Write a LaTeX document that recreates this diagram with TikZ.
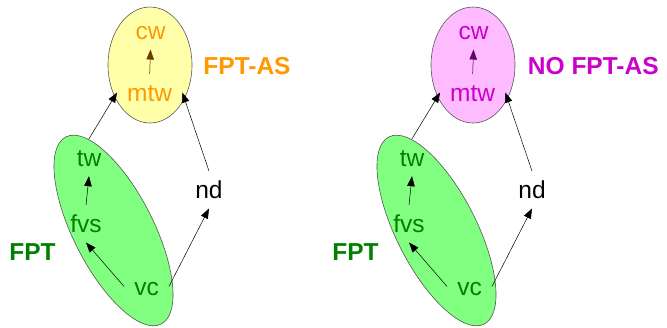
\documentclass[tikz,border=0pt]{standalone}
\usepackage{fontspec}
\setmainfont{Liberation Sans}
\usetikzlibrary{arrows.meta,shapes.geometric}
\definecolor{ylwfill}{HTML}{FFFFAA}
\definecolor{pinkfill}{HTML}{FFBBFF}
\definecolor{grnfill}{HTML}{80FF80}
\definecolor{orng}{HTML}{FF9900}
\definecolor{mgnt}{HTML}{CC00CC}
\definecolor{dgrn}{HTML}{007F00}
\definecolor{brwn}{HTML}{6B3A00}
\definecolor{prpl}{HTML}{660066}
\definecolor{edge}{HTML}{555555}
\begin{document}
\begin{tikzpicture}[x=1pt,y=-1pt,
  lbl/.style={anchor=base, inner sep=10pt, text height=17pt, text depth=0pt,
              font=\fontsize{24.5}{28}\selectfont},
  big/.style={anchor=base, inner sep=0pt, font=\fontsize{24.5}{28}\selectfont\bfseries},
  conn/.style={-{Triangle[length=10pt,width=7.5pt]}, line width=0.5pt},
  blob/.style={ellipse, draw=edge, line width=0.6pt, inner sep=0pt},
  topblob/.style={blob, minimum width=84pt, minimum height=116pt},
  lowblob/.style={blob, minimum width=210pt, minimum height=80pt, rotate=-63}]
\useasboundingbox (0,0) rectangle (667,327);

% ---------- left panel ----------
\node[topblob, fill=ylwfill] (yelL) at (150,65) {};
\node[lowblob, fill=grnfill] (grnL) at (113.5,230.5) {};

\node[lbl, text=orng] (cwL)  at (150.5,39.3) {cw};
\node[lbl, text=orng] (mtwL) at (149.7,101) {mtw};
\node[lbl, text=dgrn] (twL)  at (89,166) {tw};
\node[lbl, text=dgrn] (fvsL) at (86,232.3) {fvs};
\node[lbl, text=dgrn] (vcL)  at (146.5,295) {vc};
\node[lbl, text=black] (ndL) at (209,198.3) {nd};
\node[big, text=orng] (asL)  at (247,74.3) {FPT-AS};
\node[big, text=dgrn] (fptL) at (32.5,260.7) {FPT};

\draw[conn, draw=brwn, fill=brwn] (mtwL.north) -- (cwL.south);
\draw[conn] (twL.north) -- (mtwL.west);
\draw[conn] (ndL.north) -- (mtwL.east);
\draw[conn] (fvsL.north) -- (twL.south);
\draw[conn] (vcL.west) -- (fvsL.south);
\draw[conn] (vcL.east) -- (ndL.south);

% ---------- right panel ----------
\node[topblob, fill=pinkfill] (yelR) at (473,65) {};
\node[lowblob, fill=grnfill] (grnR) at (436.5,230.5) {};

\node[lbl, text=mgnt] (cwR)  at (473.5,39.3) {cw};
\node[lbl, text=mgnt] (mtwR) at (472.7,101) {mtw};
\node[lbl, text=dgrn] (twR)  at (412,166) {tw};
\node[lbl, text=dgrn] (fvsR) at (409,232.3) {fvs};
\node[lbl, text=dgrn] (vcR)  at (469.5,295) {vc};
\node[lbl, text=black] (ndR) at (532,198.3) {nd};
\node[big, text=mgnt] (asR)  at (593.3,74.3) {NO FPT-AS};
\node[big, text=dgrn] (fptR) at (355.5,260.7) {FPT};

\draw[conn, draw=prpl, fill=prpl] (mtwR.north) -- (cwR.south);
\draw[conn] (twR.north) -- (mtwR.west);
\draw[conn] (ndR.north) -- (mtwR.east);
\draw[conn] (fvsR.north) -- (twR.south);
\draw[conn] (vcR.west) -- (fvsR.south);
\draw[conn] (vcR.east) -- (ndR.south);
\end{tikzpicture}
\end{document}
